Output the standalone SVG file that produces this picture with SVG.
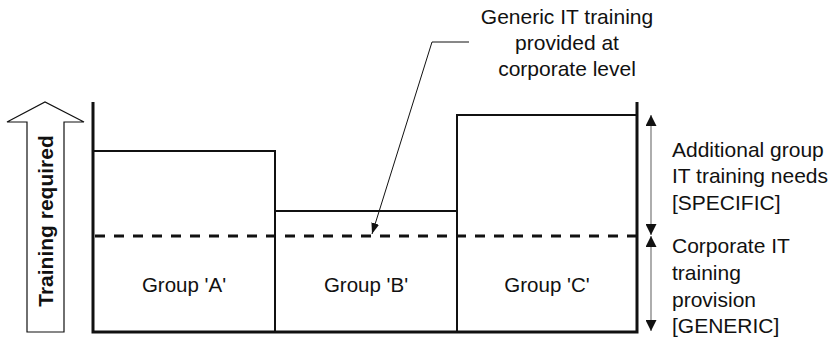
<svg xmlns="http://www.w3.org/2000/svg" width="832" height="337" viewBox="0 0 832 337">
<defs>
<marker id="ah" viewBox="0 0 11 11" refX="11" refY="5.5" markerWidth="11" markerHeight="11" markerUnits="userSpaceOnUse" orient="auto-start-reverse">
<path d="M0,0 L11,5.5 L0,11 z" fill="#111"/>
</marker>
<marker id="ah2" viewBox="0 0 11 8" refX="11" refY="4" markerWidth="11" markerHeight="8" markerUnits="userSpaceOnUse" orient="auto">
<path d="M0,0 L11,4 L0,8 z" fill="#111"/>
</marker>
<style>
.t{font-family:"Liberation Sans",Arial,sans-serif;font-size:21px;fill:#111}
.ax{stroke:#111;stroke-width:3;fill:none}
.bar{stroke:#111;stroke-width:2;fill:none}
.dim{stroke:#777;stroke-width:1.2;fill:none}
</style>
</defs>
<rect width="832" height="337" fill="#fff"/>
<g id="training-arrow">
<path d="M27,332 L64,332 L64,122 L84,122 L45,102 L7,122 L27,122 Z" fill="#fff" stroke="#111" stroke-width="1.2"/>
<text class="t" transform="translate(53,221) rotate(-90)" text-anchor="middle" font-weight="bold">Training required</text>
</g>
<g id="group-a">
<path class="bar" d="M93,151 L275,151 L275,332"/>
<text class="t" x="184" y="292" text-anchor="middle" style="font-size:20.5px">Group 'A'</text>
</g>
<g id="group-b">
<path class="bar" d="M275,211 L457,211 L457,332"/>
<text class="t" x="366" y="292" text-anchor="middle" style="font-size:20.5px">Group 'B'</text>
</g>
<g id="group-c">
<path class="bar" d="M457,332 L457,115 L637,115"/>
<text class="t" x="547" y="292" text-anchor="middle" style="font-size:20.5px">Group 'C'</text>
</g>
<g id="axes">
<path class="ax" d="M93,102 L93,332 L637,332 L637,102"/>
</g>
<g id="generic-level">
<line x1="95" y1="236" x2="636" y2="236" stroke="#111" stroke-width="3" stroke-dasharray="10,9"/>
</g>
<g id="callout">
<text class="t" x="567" y="24" text-anchor="middle">Generic IT training</text>
<text class="t" x="567" y="50" text-anchor="middle">provided at</text>
<text class="t" x="567" y="76" text-anchor="middle">corporate level</text>
</g>
<g id="labels">
<text class="t" x="672" y="157">Additional group</text>
<text class="t" x="672" y="183">IT training needs</text>
<text class="t" x="672" y="210">[SPECIFIC]</text>
<text class="t" x="672" y="253">Corporate IT</text>
<text class="t" x="672" y="280">training</text>
<text class="t" x="672" y="307">provision</text>
<text class="t" x="672" y="333">[GENERIC]</text>
</g>
<g id="connectors">
<path d="M469,42 L432,42 L372,234" fill="none" stroke="#111" stroke-width="1" marker-end="url(#ah2)"/>
<line class="dim" x1="651" y1="115" x2="651" y2="235" marker-start="url(#ah)" marker-end="url(#ah)"/>
<line class="dim" x1="651" y1="236" x2="651" y2="331" marker-start="url(#ah)" marker-end="url(#ah)"/>
</g>
</svg>
